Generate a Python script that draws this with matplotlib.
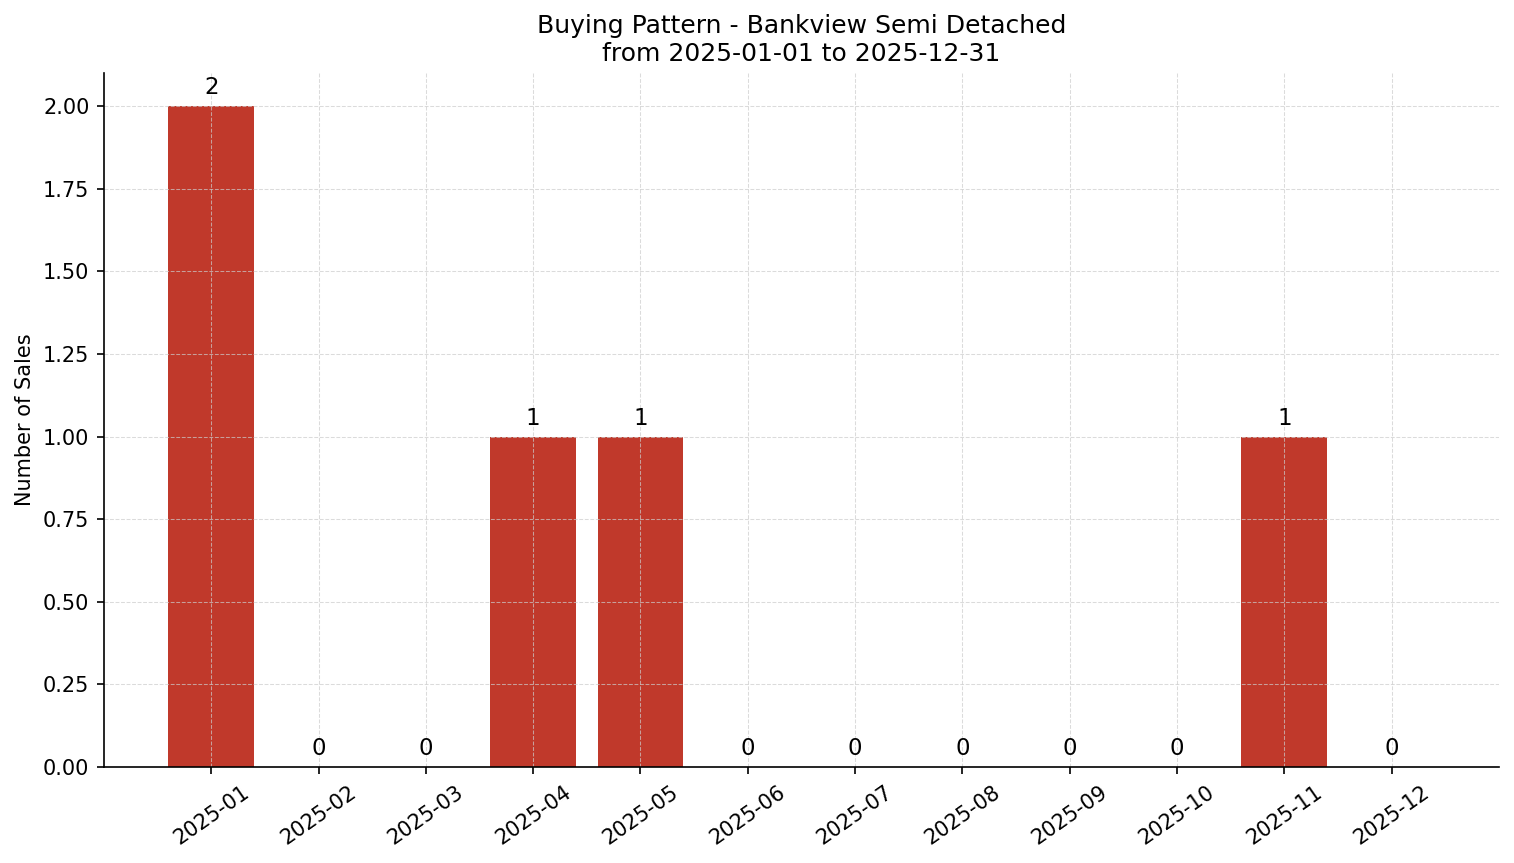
import numpy as np
import matplotlib.pyplot as plt

months = ['2025-01', '2025-02', '2025-03', '2025-04', '2025-05', '2025-06',
          '2025-07', '2025-08', '2025-09', '2025-10', '2025-11', '2025-12']
sales = [2, 0, 0, 1, 1, 0, 0, 0, 0, 0, 1, 0]

fig, ax = plt.subplots(figsize=(1514 / 150, 863 / 150), dpi=150)
fig.subplots_adjust(left=0.0687, right=0.990, top=0.9154, bottom=0.1112)

x = np.arange(len(months))
bars = ax.bar(x, sales, width=0.8, color='#C0392B')
for xi, v in zip(x, sales):
    ax.text(xi, v + 0.02, str(v), ha='center', va='bottom', fontsize=11)

ax.set_xticks(x)
ax.set_xticklabels(months, rotation=35, ha='center')
ax.set_xlim(-1, 12)
ax.set_ylim(0, 2.1)
ax.set_yticks(np.arange(0, 2.01, 0.25))
ax.yaxis.set_major_formatter(plt.FormatStrFormatter('%.2f'))
ax.set_ylabel('Number of Sales')
ax.set_title('Buying Pattern - Bankview Semi Detached\nfrom 2025-01-01 to 2025-12-31', fontsize=12)
ax.grid(True, linestyle='--', linewidth=0.5, color='#cccccc', alpha=0.7)
ax.spines['top'].set_visible(False)
ax.spines['right'].set_visible(False)

plt.savefig('out.png', dpi=150)
